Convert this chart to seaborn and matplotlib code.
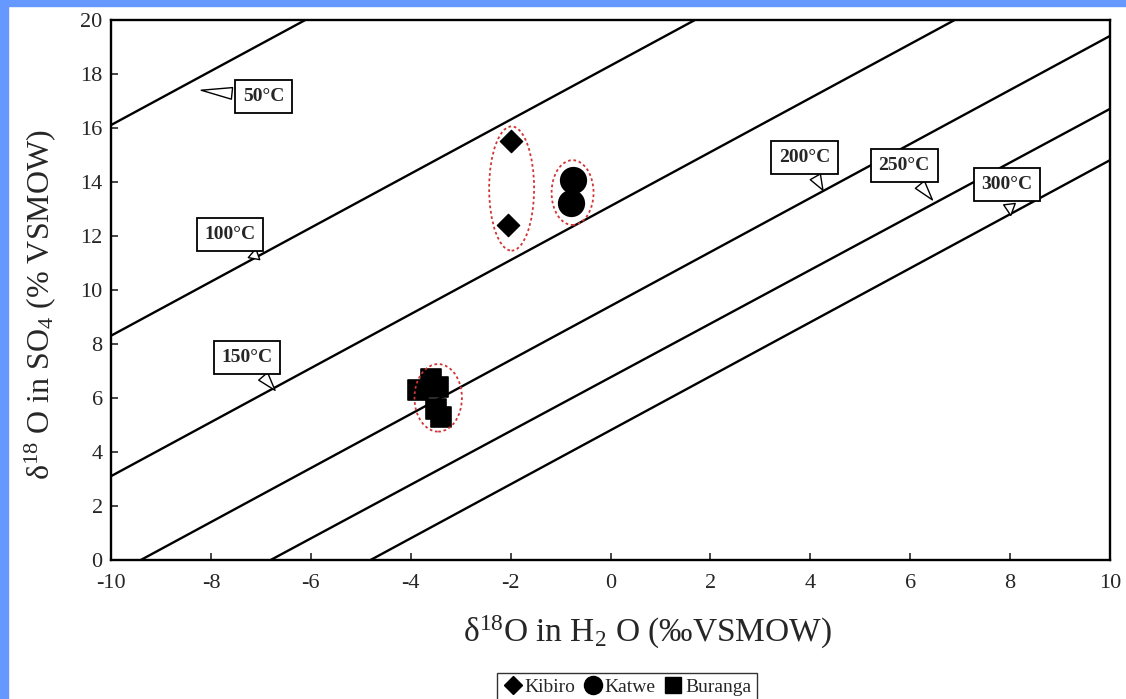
import pandas as pd
import seaborn as sns
import matplotlib.pyplot as plt
from matplotlib.lines import Line2D
from matplotlib.patches import Ellipse, Rectangle

# sample values
kibiro_x = [-2.0, -2.05]
kibiro_y = [15.5, 12.4]
katwe_x = [-0.75, -0.8]
katwe_y = [14.05, 13.2]
buranga_x = [-3.85, -3.6, -3.45, -3.5, -3.4]
buranga_y = [6.3, 6.7, 6.4, 5.6, 5.3]

# isotherm lines (end points)
iso_labels = ['50°C', '100°C', '150°C', '200°C', '250°C', '300°C']
iso_x0 = [-10, -10, -10, -9.4, -6.8, -4.8]
iso_y0 = [16.1, 8.3, 3.1, 0, 0, 0]
iso_x1 = [-6.1, 1.7, 6.9, 10, 10, 10]
iso_y1 = [20, 20, 20, 19.4, 16.7, 14.8]

# callout boxes: text position and pointer tip
call_tx = [-6.94, -7.62, -7.28, 3.88, 5.88, 7.94]
call_ty = [17.15, 12.05, 7.5, 14.9, 14.6, 13.9]
call_px = [-8.25, -6.98, -6.68, 4.28, 6.48, 8.02]
call_py = [17.4, 11.05, 6.2, 13.6, 13.25, 12.65]

sns.set_style('ticks')
plt.rcParams['font.family'] = ['Liberation Serif', 'DejaVu Serif']
plt.rcParams['mathtext.fontset'] = 'custom'
plt.rcParams['mathtext.rm'] = 'Liberation Serif'
plt.rcParams['mathtext.it'] = 'Liberation Serif:italic'
plt.rcParams['axes.unicode_minus'] = False

fig = plt.figure(figsize=(11.26, 6.99), dpi=100, facecolor='white')
ax = fig.add_axes([0.0986, 0.199, 0.8872, 0.7728])

# blue frame strips
fig.patches.append(Rectangle((0, 0), 0.0071, 1, transform=fig.transFigure, color='#6699ff', zorder=0))
fig.patches.append(Rectangle((0, 0.9914), 1, 0.0086, transform=fig.transFigure, color='#6699ff', zorder=0))

lines = pd.DataFrame({
    'x': iso_x0 + iso_x1,
    'y': iso_y0 + iso_y1,
    'T': iso_labels + iso_labels,
})
sns.lineplot(data=lines, x='x', y='y', units='T', estimator=None, color='black',
             lw=1.7, sort=False, ax=ax, legend=False)

sns.scatterplot(x=kibiro_x, y=kibiro_y, marker='D', s=130, color='black', edgecolor='black', ax=ax, zorder=5)
sns.scatterplot(x=katwe_x, y=katwe_y, marker='o', s=330, color='black', edgecolor='black', ax=ax, zorder=5)
sns.scatterplot(x=buranga_x, y=buranga_y, marker='s', s=220, color='black', edgecolor='black', ax=ax, zorder=5)

# red dotted group outlines
for cx, cy, w, h in [(-1.98, 13.75, 0.9, 4.6), (-0.76, 13.6, 0.84, 2.4), (-3.45, 6.0, 0.95, 2.5)]:
    ax.add_patch(Ellipse((cx, cy), w, h, fill=False, ec='#d03535', ls=(0, (1.5, 1.5)), lw=1.3, zorder=6))

for lab, tx, ty, px, py in zip(iso_labels, call_tx, call_ty, call_px, call_py):
    ax.annotate(lab, xy=(px, py), xytext=(tx, ty), ha='center', va='center',
                fontsize=14, fontweight='bold',
                bbox=dict(boxstyle='square,pad=0.4', fc='white', ec='black', lw=1.3),
                arrowprops=dict(arrowstyle='wedge,tail_width=0.6,shrink_factor=0.5',
                                fc='white', ec='black', lw=1.0),
                zorder=7)

ax.set_xlim(-10, 10)
ax.set_ylim(0, 20)
ax.set_xticks(range(-10, 11, 2))
ax.set_yticks(range(0, 21, 2))
ax.tick_params(direction='in', length=5, width=1.2, labelsize=16)
ax.tick_params(axis='x', pad=10)
ax.tick_params(axis='y', pad=6)
for s in ax.spines.values():
    s.set_linewidth(1.7)
    s.set_color('black')

ax.set_xlabel('δ$^{18}$O in H$_2$ O (‰VSMOW)', fontsize=24)
ax.set_ylabel('δ$^{18}$ O in SO$_4$ (% VSMOW)', fontsize=23)
ax.xaxis.set_label_coords(0.537, -0.10)
ax.yaxis.set_label_coords(-0.053, 0.472)

handles = [
    Line2D([], [], marker='D', color='black', ls='none', markersize=9),
    Line2D([], [], marker='o', color='black', ls='none', markersize=13),
    Line2D([], [], marker='s', color='black', ls='none', markersize=12),
]
fig.legend(handles, ['Kibiro', 'Katwe', 'Buranga'], loc='lower center',
           bbox_to_anchor=(0.557, -0.018), ncol=3, fontsize=14, frameon=True,
           fancybox=False, edgecolor='black', handletextpad=0.1, columnspacing=0.4,
           borderpad=0.3, handlelength=1.0)

fig.savefig('out.png', dpi=100, facecolor='white')
